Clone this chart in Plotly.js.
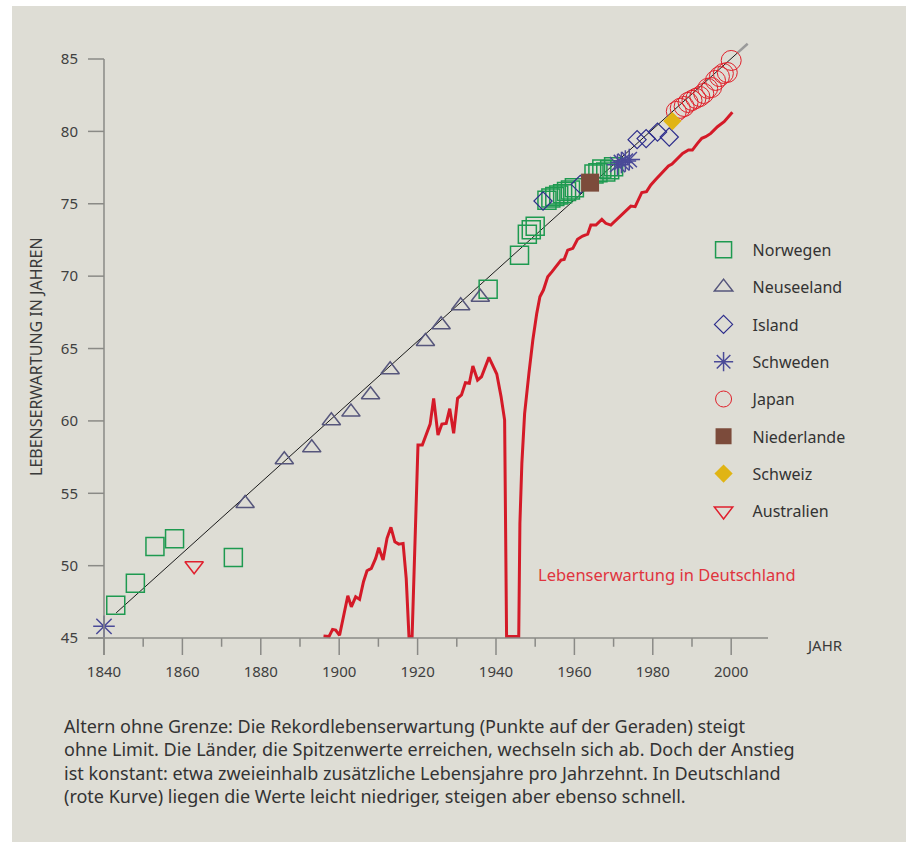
<!DOCTYPE html>
<html>
<head>
<meta charset="utf-8">
<script src="https://cdn.plot.ly/plotly-3.0.1.min.js"></script>
<style>
html,body{margin:0;padding:0;background:#ffffff;}
#chart{width:912px;height:846px;}
</style>
</head>
<body>
<div id="chart"></div>
<script>
// ---- data ----
const norwayYears = [1843, 1848, 1853, 1858, 1873, 1938, 1946, 1948, 1949, 1950, 1953, 1954, 1955, 1956, 1957, 1958, 1959, 1960, 1965, 1966, 1967, 1968, 1969, 1970];
const norwayLE    = [47.26, 48.78, 51.33, 51.86, 50.57, 69.1, 71.45, 72.9, 73.2, 73.45, 75.25, 75.4, 75.5, 75.6, 75.7, 75.85, 75.95, 76.1, 77.05, 77.15, 77.4, 77.2, 77.35, 77.55];

const nzYears = [1876, 1886, 1893, 1898, 1903, 1908, 1913, 1922, 1926, 1931, 1936];
const nzLE    = [54.3, 57.32, 58.14, 60.01, 60.61, 61.81, 63.53, 65.49, 66.64, 67.96, 68.54];

const icelandYears = [1952, 1961.5, 1976, 1978.3, 1981.2, 1984.2];
const icelandLE    = [75.19, 76.34, 79.43, 79.5, 79.95, 79.61];

const swedenYears = [1840, 1971, 1972, 1973, 1974];
const swedenLE    = [45.81, 77.7, 77.85, 77.95, 78.05];

const japanYears = [1986, 1987, 1988, 1989, 1990, 1991, 1992, 1993, 1994, 1995, 1996, 1997, 1998, 1999, 2000];
const japanLE    = [81.38, 81.59, 81.72, 82.0, 82.14, 82.28, 82.41, 82.62, 82.97, 83.03, 83.52, 83.79, 84.0, 84.07, 84.9];

const netherlandsYears = [1964];
const netherlandsLE    = [76.46];

const switzerlandYears = [1985];
const switzerlandLE    = [80.71];

const australiaYears = [1863];
const australiaLE    = [50.0];

const regYears = [1843.1, 2001.6];
const regLE    = [46.74, 85.42];
const regExtYears = [2001.6, 2004.2];
const regExtLE    = [85.42, 86.05];

const germanyYears = [1896, 1897.4, 1898.3, 1899.1, 1900.1, 1901.1, 1902.2, 1903.1, 1904.2, 1905.2, 1906.2, 1907.1, 1908.2, 1909.3, 1910.1, 1911.2, 1912.2, 1913.2, 1914.2, 1915.2, 1916.3, 1917.1, 1917.8, 1918.6, 1920.1, 1921.2, 1922.2, 1923.2, 1924.1, 1925.2, 1926.2, 1927.3, 1928.2, 1929.2, 1930.2, 1931.2, 1932.2, 1933.2, 1934.1, 1935.3, 1936.3, 1938.2, 1940.2, 1941.3, 1942.2, 1942.7, 1945.8, 1946.1, 1946.6, 1947.3, 1948.4, 1949.4, 1950.4, 1951.2, 1952.1, 1953.2, 1954.3, 1955.5, 1956.6, 1957.4, 1958.3, 1959.6, 1960.8, 1962.1, 1963.4, 1964.2, 1965.5, 1967.0, 1968.0, 1969.3, 1971.0, 1972.7, 1974.4, 1975.5, 1977.2, 1978.4, 1979.5, 1980.8, 1982.5, 1984.0, 1984.9, 1986.3, 1987.6, 1989.1, 1990.1, 1991.4, 1992.5, 1993.5, 1994.8, 1996.5, 1998.2, 2000.3];
const germanyLE    = [45.14, 45.1, 45.6, 45.55, 45.19, 46.47, 47.92, 47.16, 47.85, 47.67, 48.89, 49.65, 49.81, 50.5, 51.24, 50.39, 51.89, 52.65, 51.65, 51.49, 51.54, 49.12, 45.1, 45.1, 58.33, 58.33, 59.02, 59.78, 61.56, 59.02, 59.78, 59.83, 60.85, 59.14, 61.56, 61.79, 62.64, 62.6, 63.79, 62.82, 63.05, 64.39, 63.24, 61.67, 60.06, 45.1, 45.1, 52.92, 57.07, 60.5, 63.29, 65.59, 67.43, 68.58, 69.04, 69.96, 70.31, 70.7, 71.11, 71.16, 71.8, 71.92, 72.55, 72.77, 72.91, 73.53, 73.53, 73.92, 73.65, 73.53, 73.99, 74.45, 74.84, 74.8, 75.78, 75.84, 76.3, 76.69, 77.21, 77.61, 77.75, 78.14, 78.48, 78.71, 78.71, 79.17, 79.52, 79.63, 79.86, 80.32, 80.67, 81.32];

const xTickVals = [1840, 1860, 1880, 1900, 1920, 1940, 1960, 1980, 2000];
const xMinorVals = [1850, 1870, 1890, 1910, 1930, 1950, 1970, 1990];
const yTickVals = [45, 50, 55, 60, 65, 70, 75, 80, 85];

const captionLines = [
  'Altern ohne Grenze: Die Rekordlebenserwartung (Punkte auf der Geraden) steigt',
  'ohne Limit. Die Länder, die Spitzenwerte erreichen, wechseln sich ab. Doch der Anstieg',
  'ist konstant: etwa zweieinhalb zusätzliche Lebensjahre pro Jahrzehnt. In Deutschland',
  '(rote Kurve) liegen die Werte leicht niedriger, steigen aber ebenso schnell.'
];

// ---- layout geometry ----
const X0 = 1835.92, X1 = 2009.39, Y0 = 43.83, Y1 = 86.52;
const AX = '#8a8a86';
const FONT = 'Noto Sans, Open Sans, sans-serif';

function markerTrace(name, xs, ys, symbol, size, color, lw) {
  return {
    type: 'scatter', mode: 'markers', name: name, x: xs, y: ys,
    legendgroup: name,
    marker: {symbol: symbol, size: size, color: color, line: {color: color, width: lw}},
    cliponaxis: false, hoverinfo: 'skip'
  };
}

const traces = [
  {type: 'scatter', mode: 'lines', x: germanyYears, y: germanyLE, showlegend: false,
   line: {color: '#d41a28', width: 3}, hoverinfo: 'skip'},
  {type: 'scatter', mode: 'lines', x: regYears, y: regLE, showlegend: false,
   line: {color: '#1a1a1a', width: 1}, hoverinfo: 'skip'},
  {type: 'scatter', mode: 'lines', x: regExtYears, y: regExtLE, showlegend: false,
   line: {color: '#9a9a9a', width: 2.5}, hoverinfo: 'skip'},
  markerTrace('Norwegen', norwayYears, norwayLE, 'square-open', 18, '#1e9a50', 1.5),
  markerTrace('Neuseeland', nzYears, nzLE, 'triangle-up-open', 16, '#56567c', 1.5),
  markerTrace('Island', icelandYears, icelandLE, 'diamond-open', 14, '#2e2e8c', 1.2),
  markerTrace('Schweden', swedenYears, swedenLE, 'asterisk-open', 18, '#4a4a98', 1.5),
  markerTrace('Japan', japanYears, japanLE, 'circle-open', 20, '#e0202a', 1),
  markerTrace('Niederlande', netherlandsYears, netherlandsLE, 'square', 18, '#7c4b3b', 0),
  markerTrace('Schweiz', switzerlandYears, switzerlandLE, 'diamond', 14, '#e0b414', 0),
  markerTrace('Australien', australiaYears, australiaLE, 'triangle-down-open', 16, '#e0202e', 1.5)
];

// axis lines and ticks as shapes in data coordinates
const shapes = [
  {type: 'rect', xref: 'paper', yref: 'paper', x0: -76/680, x1: 818/680, y0: -187/618, y1: 649/618,
   fillcolor: '#deddd5', line: {width: 0}, layer: 'below'},
  {type: 'line', xref: 'x', yref: 'y', x0: X0, x1: X1, y0: 45, y1: 45, line: {color: AX, width: 1.5}},
  {type: 'line', xref: 'x', yref: 'y', x0: 1840, x1: 1840, y0: Y0, y1: 85, line: {color: AX, width: 1.5}}
];
xTickVals.forEach(v => shapes.push({type: 'line', xref: 'x', yref: 'y', x0: v, x1: v, y0: 45, y1: Y0, line: {color: AX, width: 1.5}}));
xMinorVals.forEach(v => shapes.push({type: 'line', xref: 'x', yref: 'y', x0: v, x1: v, y0: 45, y1: 44.4, line: {color: AX, width: 1.5}}));
yTickVals.forEach(v => shapes.push({type: 'line', xref: 'x', yref: 'y', x0: X0, x1: 1840, y0: v, y1: v, line: {color: AX, width: 1.5}}));

const layout = {
  width: 912, height: 846,
  margin: {l: 88, r: 144, t: 37, b: 191},
  paper_bgcolor: '#ffffff',
  plot_bgcolor: 'rgba(0,0,0,0)',
  font: {family: FONT, color: '#3a3a3a', size: 14},
  showlegend: true,
  legend: {
    x: 0.892, y: 0.683, xanchor: 'left', yanchor: 'top',
    bgcolor: 'rgba(0,0,0,0)', font: {family: FONT, size: 16, color: '#333333'},
    traceorder: 'grouped', tracegroupgap: 13.5, itemwidth: 48, itemclick: false
  },
  xaxis: {
    range: [X0, X1], showgrid: false, zeroline: false, showline: false,
    tickmode: 'array', tickvals: xTickVals, ticks: '', ticklabelstandoff: 6,
    tickfont: {family: FONT, size: 15, color: '#404040'}, fixedrange: true
  },
  yaxis: {
    range: [Y0, Y1], showgrid: false, zeroline: false, showline: false,
    tickmode: 'array', tickvals: yTickVals, ticks: '', ticklabelstandoff: 9,
    tickfont: {family: FONT, size: 15, color: '#404040'}, fixedrange: true
  },
  shapes: shapes,
  annotations: [
    {xref: 'paper', yref: 'paper', x: -52/680, y: 1 - (357 - 37) / 618, text: 'LEBENSERWARTUNG IN JAHREN',
     textangle: -90, showarrow: false, font: {family: FONT, size: 16, color: '#3a3a3a'}, xanchor: 'center', yanchor: 'middle'},
    {xref: 'paper', yref: 'paper', x: (804 - 88) / 680, y: (655 - 645) / 618, text: 'JAHR',
     showarrow: false, xanchor: 'left', yanchor: 'middle', font: {family: FONT, size: 15, color: '#3a3a3a'}},
    {xref: 'x', yref: 'y', x: 1950.3, y: 49.38, text: 'Lebenserwartung in Deutschland',
     showarrow: false, xanchor: 'left', yanchor: 'middle', font: {family: FONT, size: 16.5, color: '#e0343e'}},
    {xref: 'paper', yref: 'paper', x: (62 - 88) / 680, y: -(712 - 655) / 618, text: captionLines.join('<br>'),
     showarrow: false, xanchor: 'left', yanchor: 'top', align: 'left',
     font: {family: FONT, size: 18, color: '#333333'}}
  ]
};

Plotly.newPlot('chart', traces, layout, {staticPlot: true, displayModeBar: false});
</script>
</body>
</html>
